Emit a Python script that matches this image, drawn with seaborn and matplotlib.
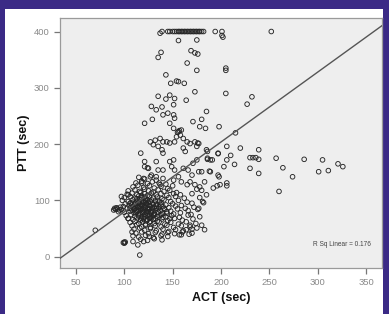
import matplotlib
matplotlib.use("Agg")
import matplotlib.pyplot as plt
import matplotlib.patches as mpatches
import seaborn as sns
import pandas as pd

# (ACT, PTT) pairs, grouped by region of the plot
capped = [(137, 397), (139, 400), (145, 400), (147, 400), (150, 400), (152, 400),
          (154, 400), (156, 400), (157, 400), (159, 400), (160, 400), (162, 400),
          (163, 400), (165, 400), (166, 400), (168, 400), (169, 400), (171, 400),
          (172, 400), (174, 400), (175, 400), (177, 400), (178, 400), (180, 400),
          (182, 400), (194, 400), (201, 400), (252, 400), (201, 393), (202, 390)]

upper = [(156, 384), (175, 385), (169, 366), (176, 360), (173, 362), (138, 363),
         (135, 354), (165, 344), (175, 331), (205, 335), (205, 331), (143, 323),
         (154, 312), (156, 311), (148, 308), (162, 308), (173, 293), (205, 290),
         (135, 285), (147, 287), (143, 280), (152, 281), (164, 278), (227, 271),
         (232, 284), (185, 258)]

middle = [(128, 267), (133, 261), (139, 266), (151, 270), (121, 237), (129, 244),
          (140, 252), (145, 255), (151, 252), (152, 246), (147, 237), (151, 228),
          (156, 222), (157, 224), (155, 221), (159, 225), (158, 216), (154, 213),
          (161, 210), (165, 204), (168, 201), (173, 204), (177, 201), (176, 202),
          (175, 196), (171, 240), (178, 231), (180, 244), (184, 228), (198, 231),
          (215, 220), (127, 204), (132, 207), (137, 210), (140, 204), (130, 199),
          (135, 196), (139, 190), (140, 184), (144, 204), (147, 202), (152, 204),
          (161, 193), (163, 187), (117, 184), (185, 190), (186, 175), (189, 172),
          (197, 184), (206, 172), (206, 196), (220, 193), (239, 190), (175, 172),
          (171, 166), (151, 172), (147, 169), (121, 169), (125, 157), (124, 158),
          (121, 160), (133, 169), (135, 154), (140, 154), (149, 160), (152, 154),
          (161, 157), (166, 154), (170, 145), (177, 151), (180, 151), (189, 151),
          (188, 152), (183, 133), (197, 145), (199, 128), (206, 131), (156, 142),
          (151, 136), (159, 133), (165, 128), (168, 133), (173, 128), (178, 124),
          (140, 139), (133, 142), (128, 145), (120, 139), (118, 131), (137, 128),
          (170, 112), (175, 120), (180, 118), (178, 105), (182, 96), (185, 110)]

right = [(230, 176), (233, 176), (236, 176), (239, 173), (257, 175), (286, 173),
         (305, 172), (321, 165), (326, 160), (311, 153), (301, 151), (274, 142),
         (264, 158), (260, 116), (239, 148), (230, 157), (214, 164), (203, 160),
         (198, 142), (206, 126), (196, 126), (192, 122), (186, 187), (186, 173),
         (191, 172), (210, 180), (197, 183)]

lower = [(70, 47), (99, 25), (100, 24), (101, 26), (100, 26), (116, 3), (109, 27),
         (114, 21), (120, 27), (126, 36), (108, 44), (104, 68), (97, 107), (104, 110),
         (106, 95), (90, 86), (91, 84), (92, 87), (89, 83), (93, 85), (95, 83),
         (94, 80), (96, 88), (181, 98), (177, 86), (175, 51), (183, 48), (168, 56),
         (170, 42), (164, 48), (159, 39)]

core = [(115, 141), (121, 138), (127, 142), (133, 136),
        (112, 131), (118, 134), (124, 130), (129, 133), (136, 131), (143, 129),
        (109, 124), (114, 127), (120, 123), (126, 126), (131, 122), (138, 125), (145, 121), (150, 126),
        (104, 117), (111, 119), (116, 116), (121, 120), (125, 117), (130, 115), (135, 119), (141, 116),
        (147, 118), (154, 114),
        (103, 111), (108, 113), (113, 110), (117, 114), (121, 112), (124, 109), (128, 113), (133, 110),
        (138, 112), (144, 109), (151, 112), (158, 110),
        (100, 105), (106, 107), (111, 104), (115, 108), (118, 105), (122, 103), (126, 107), (130, 104),
        (134, 106), (139, 103), (146, 105), (153, 107), (162, 104),
        (98, 100), (104, 98), (109, 101), (113, 99), (116, 102), (119, 98), (122, 100), (125, 97),
        (128, 101), (132, 99), (136, 97), (141, 101), (148, 98), (156, 100), (165, 97),
        (101, 94), (107, 96), (111, 93), (114, 95), (117, 92), (120, 96), (123, 94), (126, 91),
        (129, 95), (133, 93), (138, 96), (143, 92), (150, 94), (159, 91), (170, 95),
        (99, 89), (105, 91), (109, 88), (112, 90), (115, 87), (118, 91), (121, 89), (124, 86),
        (127, 90), (131, 88), (135, 85), (140, 89), (146, 87), (153, 90), (163, 86), (172, 88),
        (97, 84), (103, 86), (108, 83), (111, 85), (114, 82), (117, 86), (120, 84), (123, 81),
        (126, 85), (129, 83), (133, 86), (137, 82), (142, 84), (148, 81), (155, 85), (166, 82), (176, 84),
        (100, 79), (106, 81), (110, 78), (113, 80), (116, 77), (119, 79), (122, 76), (125, 80),
        (128, 78), (131, 75), (135, 79), (139, 77), (144, 80), (151, 76), (158, 78), (169, 75),
        (102, 73), (107, 75), (111, 72), (115, 74), (118, 71), (121, 75), (124, 73), (127, 70),
        (130, 74), (134, 72), (138, 75), (143, 71), (149, 73), (157, 70), (166, 74), (178, 71),
        (104, 68), (109, 66), (113, 69), (117, 65), (120, 67), (123, 64), (126, 68), (130, 66),
        (134, 63), (139, 67), (145, 64), (152, 68), (160, 65), (171, 67),
        (106, 61), (111, 63), (115, 59), (119, 62), (122, 58), (126, 61), (131, 59), (136, 62),
        (142, 58), (148, 61), (156, 58), (164, 62), (174, 59),
        (108, 55), (113, 57), (118, 53), (122, 56), (127, 52), (132, 55), (138, 53), (144, 56),
        (151, 52), (159, 55), (168, 53), (180, 56),
        (110, 49), (116, 51), (121, 47), (127, 50), (133, 46), (140, 49), (146, 45), (153, 48),
        (161, 46), (170, 49),
        (112, 42), (118, 44), (125, 41), (132, 43), (139, 40), (145, 43), (152, 41), (160, 44), (167, 40),
        (109, 37), (115, 35), (122, 38), (130, 34), (138, 37), (145, 36), (157, 39),
        (117, 31), (124, 29), (131, 32), (139, 30)]

# extra overlap in the darkest part of the cloud
core_dense = [(113, 103), (116, 97), (119, 93), (122, 88), (125, 84), (128, 80), (131, 77),
              (118, 108), (121, 106), (124, 101), (127, 98), (130, 93), (133, 90), (136, 88),
              (114, 88), (117, 83), (120, 80), (123, 78), (126, 74), (129, 71), (132, 68),
              (112, 78), (115, 72), (118, 68), (121, 71), (124, 66), (111, 95), (110, 85),
              (135, 100), (138, 92), (141, 86), (137, 73), (140, 70), (144, 77), (147, 68),
              (127, 63), (124, 92), (129, 87), (132, 82), (119, 86), (116, 90), (122, 97),
              (112, 82), (108, 92), (106, 86)]

# fit line as printed by the source chart
fit_slope = 1.241
fit_intercept = -44.4
r_sq = 0.176

xticks = [50, 100, 150, 200, 250, 300, 350]
yticks = [0, 100, 200, 300, 400]

pts = capped + upper + middle + right + lower + core + core_dense
df = pd.DataFrame(pts, columns=["ACT", "PTT"])

plt.rcParams['font.family'] = ['Liberation Sans', 'DejaVu Sans']

fig = plt.figure(figsize=(3.89, 3.14), dpi=100)
fig.patch.set_facecolor('#3b2a86')
fig.add_artist(mpatches.Rectangle((5 / 389, 0), 378 / 389, 305 / 314,
                                  transform=fig.transFigure, facecolor='white',
                                  edgecolor='none', zorder=0))

ax = fig.add_axes([60 / 389, 46 / 314, 322 / 389, 250 / 314])
ax.set_facecolor('#eeeeee')

sns.scatterplot(data=df, x="ACT", y="PTT", ax=ax, marker='o', s=11,
                facecolor='none', edgecolor='#262626', linewidth=0.65, legend=False)
ax.axline((0, fit_intercept), slope=fit_slope, color='#555555', lw=1.0, zorder=3)

ax.set_xlim(33.5, 366.5)
ax.set_ylim(-20, 424)
ax.set_xticks(xticks)
ax.set_yticks(yticks)
ax.tick_params(axis='both', direction='out', length=4, width=0.9, color='#777777',
               labelcolor='#8a8a8a', labelsize=6.8)
for sp in ax.spines.values():
    sp.set_color('#9a9a9a')
    sp.set_linewidth(0.9)

ax.set_xlabel("ACT (sec)", fontsize=9, fontweight='bold', color='#111111', labelpad=3)
ax.set_ylabel("PTT (sec)", fontsize=9, fontweight='bold', color='#111111', labelpad=3)
ax.text(355, 22, f"R Sq Linear = {r_sq}", fontsize=4.7, color='#444444',
        ha='right', va='center')

fig.savefig("out.png", dpi=100, facecolor=fig.get_facecolor())
